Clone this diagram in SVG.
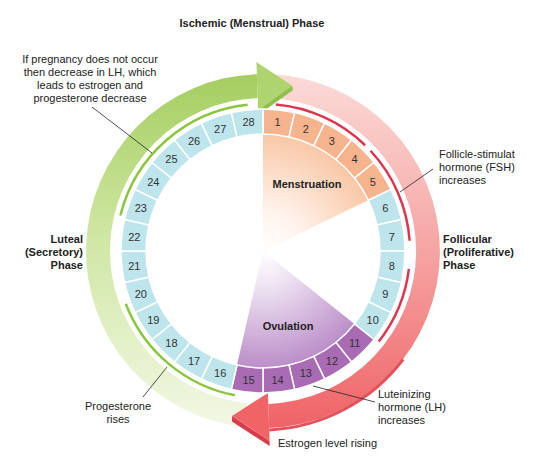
<svg xmlns="http://www.w3.org/2000/svg" width="546" height="465" viewBox="0 0 546 465">
<style>
text{font-family:"Liberation Sans",Arial,sans-serif;fill:#222;}
.lbl{font-size:11px;}
.bold{font-size:11px;font-weight:bold;}
.num{font-size:11px;fill:#333;text-anchor:middle;}
.o{fill:#f6b48e;}
.b{fill:#bee4ec;}
.p{fill:#a96bb3;}
.tile{stroke:#fff;stroke-width:1.5;}
.lead{stroke:#222;stroke-width:0.8;fill:none;}
.redline{stroke:#e0344e;stroke-width:2.5;fill:none;}
.grnline{stroke:#8cc63f;stroke-width:2.5;fill:none;}
</style>
<defs>
<path id="tile" d="M0,-142 A142,142 0 0 1 31.598,-138.44 L26.035,-114.07 A117,117 0 0 0 0,-117 Z"/>
<radialGradient id="gMen" gradientUnits="userSpaceOnUse" cx="263" cy="251" r="117">
<stop offset="0" stop-color="#ffffff"/>
<stop offset="0.35" stop-color="#fff3ec"/>
<stop offset="1" stop-color="#f9c7a6"/>
</radialGradient>
<radialGradient id="gOv" gradientUnits="userSpaceOnUse" cx="263" cy="251" r="117">
<stop offset="0" stop-color="#ffffff"/>
<stop offset="0.3" stop-color="#efe4f3"/>
<stop offset="1" stop-color="#bb8ec8"/>
</radialGradient>
<linearGradient id="gGreen" gradientUnits="userSpaceOnUse" x1="0" y1="70" x2="0" y2="430">
<stop offset="0" stop-color="#a3cd5e"/>
<stop offset="0.45" stop-color="#cfe6a2"/>
<stop offset="1" stop-color="#f3f8e6"/>
</linearGradient>
<linearGradient id="gRed" gradientUnits="userSpaceOnUse" x1="0" y1="75" x2="0" y2="430">
<stop offset="0" stop-color="#fbdad6"/>
<stop offset="0.5" stop-color="#f5a4a3"/>
<stop offset="1" stop-color="#ef6266"/>
</linearGradient>
</defs>

<g id="connectors">
<path id="red-band" d="M268.34,98.09 L269.18,74.11 A177,177 0 0 1 269.18,427.89 L268.34,403.91 A153,153 0 0 0 268.34,98.09 Z" fill="url(#gRed)"/>
<path d="M403.2,359.3 A179,179 0 0 1 269.2,429.9" stroke="#e0535c" stroke-width="3" fill="none"/>
<path id="green-band" d="M247.01,403.16 L244.50,427.03 A177,177 0 0 1 256.82,74.11 L257.66,98.09 A153,153 0 0 0 247.01,403.16 Z" fill="url(#gGreen)"/>
<polygon points="258.08,110.09 292,85.5 293,90 259,114.5" fill="#8fc04d"/>
<polygon id="green-head" points="256.40,62.12 292,85.5 258.08,110.09" fill="#aed470"/>
<polygon points="232,416 269.6,440.9 269.6,446 232,421.5" fill="#d63c4a"/>
<polygon id="red-head" points="267.96,392.91 232,416 269.63,440.88" fill="#f06468"/>
<path class="redline" d="M275.81,104.56 A147,147 0 0 1 365.12,145.26"/>
<path class="redline" d="M370.51,150.75 A147,147 0 0 1 409.64,240.75"/>
<path class="redline" d="M408.90,268.92 A147,147 0 0 1 378.84,341.50"/>
<path class="grnline" d="M120.37,215.44 A147,147 0 0 1 247.63,104.81"/>
<path class="grnline" d="M234.95,395.30 A147,147 0 0 1 125.76,303.68"/>
<line class="lead" x1="92" y1="107" x2="152" y2="153"/>
<line class="lead" x1="433" y1="169" x2="400" y2="192"/>
<line class="lead" x1="167" y1="367" x2="143" y2="397"/>
<line class="lead" x1="313" y1="386" x2="375" y2="402"/>
</g>

<g id="menstruation">
<path d="M263,251 L263,134 A117,117 0 0 1 368.41,200.24 Z" fill="url(#gMen)"/>
<text class="bold" x="307" y="188" text-anchor="middle">Menstruation</text>
</g>
<g id="ovulation">
<path d="M263,251 L354.47,323.95 A117,117 0 0 1 236.97,365.07 Z" fill="url(#gOv)"/>
<text class="bold" x="288" y="330" text-anchor="middle">Ovulation</text>
</g>

<g id="days">
<use href="#tile" class="tile o" transform="translate(263,251) rotate(0)"/>
<use href="#tile" class="tile o" transform="translate(263,251) rotate(12.857)"/>
<use href="#tile" class="tile o" transform="translate(263,251) rotate(25.714)"/>
<use href="#tile" class="tile o" transform="translate(263,251) rotate(38.571)"/>
<use href="#tile" class="tile o" transform="translate(263,251) rotate(51.429)"/>
<use href="#tile" class="tile b" transform="translate(263,251) rotate(64.286)"/>
<use href="#tile" class="tile b" transform="translate(263,251) rotate(77.143)"/>
<use href="#tile" class="tile b" transform="translate(263,251) rotate(90)"/>
<use href="#tile" class="tile b" transform="translate(263,251) rotate(102.857)"/>
<use href="#tile" class="tile b" transform="translate(263,251) rotate(115.714)"/>
<use href="#tile" class="tile p" transform="translate(263,251) rotate(128.571)"/>
<use href="#tile" class="tile p" transform="translate(263,251) rotate(141.429)"/>
<use href="#tile" class="tile p" transform="translate(263,251) rotate(154.286)"/>
<use href="#tile" class="tile p" transform="translate(263,251) rotate(167.143)"/>
<use href="#tile" class="tile p" transform="translate(263,251) rotate(180)"/>
<use href="#tile" class="tile b" transform="translate(263,251) rotate(192.857)"/>
<use href="#tile" class="tile b" transform="translate(263,251) rotate(205.714)"/>
<use href="#tile" class="tile b" transform="translate(263,251) rotate(218.571)"/>
<use href="#tile" class="tile b" transform="translate(263,251) rotate(231.429)"/>
<use href="#tile" class="tile b" transform="translate(263,251) rotate(244.286)"/>
<use href="#tile" class="tile b" transform="translate(263,251) rotate(257.143)"/>
<use href="#tile" class="tile b" transform="translate(263,251) rotate(270)"/>
<use href="#tile" class="tile b" transform="translate(263,251) rotate(282.857)"/>
<use href="#tile" class="tile b" transform="translate(263,251) rotate(295.714)"/>
<use href="#tile" class="tile b" transform="translate(263,251) rotate(308.571)"/>
<use href="#tile" class="tile b" transform="translate(263,251) rotate(321.429)"/>
<use href="#tile" class="tile b" transform="translate(263,251) rotate(334.286)"/>
<use href="#tile" class="tile b" transform="translate(263,251) rotate(347.143)"/>
<text class="num" x="277.5" y="126.3">1</text>
<text class="num" x="305.8" y="132.8">2</text>
<text class="num" x="331.9" y="145.4">3</text>
<text class="num" x="354.6" y="163.4">4</text>
<text class="num" x="372.7" y="186.1">5</text>
<text class="num" x="385.2" y="212.2">6</text>
<text class="num" x="391.7" y="240.5">7</text>
<text class="num" x="391.7" y="269.5">8</text>
<text class="num" x="385.2" y="297.8">9</text>
<text class="num" x="372.7" y="323.9">10</text>
<text class="num" x="354.6" y="346.6">11</text>
<text class="num" x="331.9" y="364.7">12</text>
<text class="num" x="305.8" y="377.2">13</text>
<text class="num" x="277.5" y="383.7">14</text>
<text class="num" x="248.5" y="383.7">15</text>
<text class="num" x="220.2" y="377.2">16</text>
<text class="num" x="194.1" y="364.7">17</text>
<text class="num" x="171.4" y="346.6">18</text>
<text class="num" x="153.3" y="323.9">19</text>
<text class="num" x="140.8" y="297.8">20</text>
<text class="num" x="134.3" y="269.5">21</text>
<text class="num" x="134.3" y="240.5">22</text>
<text class="num" x="140.8" y="212.2">23</text>
<text class="num" x="153.3" y="186.1">24</text>
<text class="num" x="171.4" y="163.4">25</text>
<text class="num" x="194.1" y="145.4">26</text>
<text class="num" x="220.2" y="132.8">27</text>
<text class="num" x="248.5" y="126.3">28</text>
</g>

<g id="title">
<text class="bold" x="252" y="27" text-anchor="middle">Ischemic (Menstrual) Phase</text>
</g>
<g id="lh-decrease">
<text class="lbl" text-anchor="middle"><tspan x="90" y="63">If pregnancy does not occur</tspan><tspan x="90" y="76">then decrease in LH, which</tspan><tspan x="90" y="89">leads to estrogen and</tspan><tspan x="90" y="102">progesterone decrease</tspan></text>
</g>
<g id="fsh">
<text class="lbl"><tspan x="439" y="158">Follicle-stimulat</tspan><tspan x="439" y="171">hormone (FSH)</tspan><tspan x="439" y="184">increases</tspan></text>
</g>
<g id="follicular">
<text class="bold"><tspan x="443" y="243">Follicular</tspan><tspan x="443" y="256">(Proliferative)</tspan><tspan x="443" y="269">Phase</tspan></text>
</g>
<g id="luteal">
<text class="bold" text-anchor="end"><tspan x="83" y="243">Luteal</tspan><tspan x="83" y="256">(Secretory)</tspan><tspan x="83" y="269">Phase</tspan></text>
</g>
<g id="progesterone">
<text class="lbl" text-anchor="middle"><tspan x="118" y="410">Progesterone</tspan><tspan x="118" y="423">rises</tspan></text>
</g>
<g id="lh-increase">
<text class="lbl"><tspan x="378" y="398">Luteinizing</tspan><tspan x="378" y="411">hormone (LH)</tspan><tspan x="378" y="424">increases</tspan></text>
</g>
<g id="estrogen">
<text class="lbl" x="278" y="447">Estrogen level rising</text>
</g>
</svg>
